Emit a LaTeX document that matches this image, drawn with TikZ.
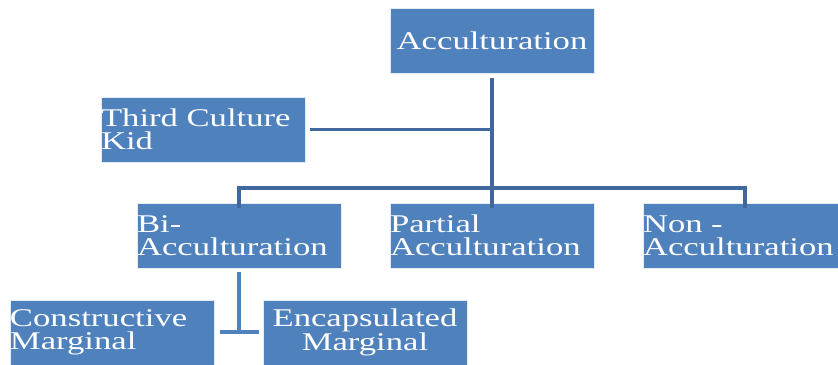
\documentclass[tikz,border=0pt]{standalone}
\usepackage{fontspec}
\newfontfamily\boxfont[FakeStretch=1.36]{Liberation Serif}
\usepackage{tikz}
\definecolor{boxblue}{RGB}{79,129,189}
\definecolor{lineblue}{RGB}{64,104,156}
\tikzstyle{line} = [draw, lineblue, line width=3.5bp]
\tikzstyle{tee} = [draw, boxblue, line width=3.5bp]

\begin{document}
\begin{tikzpicture}[x=1bp, y=-1bp,
   box/.style={rectangle, fill=boxblue, draw=white!85!boxblue, line width=0.8bp,
     minimum width=204bp, minimum height=65bp, text width=204bp, inner xsep=0pt,
     inner ysep=0pt, align=left, text=white, font=\boxfont\fontsize{25.5bp}{23bp}\selectfont}]
\useasboundingbox (0,0) rectangle (838,364);
\clip (0,0) rectangle (838,364);

\node[box, align=center] (acc) at (492, 41) {Acculturation};

\node[box] (tck) at (203, 129.5) {Third Culture\\Kid};

\node[box] (bi) at (239, 235.5) {Bi-\\Acculturation};

\node[box] (partial) at (492, 235.5) {Partial\\Acculturation};

\node[box] (non) at (745, 235.5) {Non -\\Acculturation};

\node[box] (cm) at (112, 332.5) {Constructive\\Marginal};

\node[box, align=center] (em) at (365, 332.5) {Encapsulated\\Marginal};

\coordinate (junc) at (492, 188);

\coordinate (knee) at (239, 332);

\path[line] (acc.south) ++(0,4) -- (junc);
\path[line] (tck.east) ++(5,0) -- (tck.east -| junc);
\path[line] ([yshift=-5bp]bi.north) -- (bi.north |- junc) -- (non.north |- junc) -- ([yshift=-5bp]non.north);
\path[line] (junc) -- ([yshift=-5bp]partial.north);
\path[tee] (bi.south) ++(0,4) -- (knee);
\path[tee] ([xshift=6bp]cm.east |- knee) -- ([xshift=-4bp]em.west |- knee);

\end{tikzpicture}
\end{document}
